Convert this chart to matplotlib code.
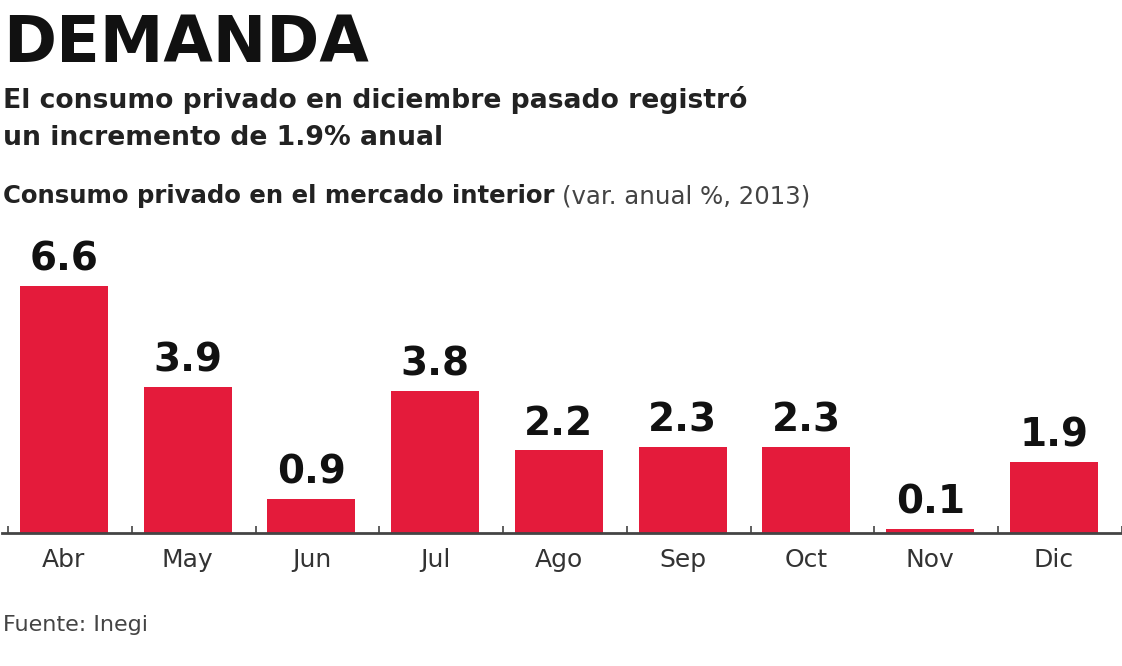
import matplotlib
matplotlib.use("Agg")
import matplotlib.pyplot as plt
import numpy as np

# datos
meses = ["Abr", "May", "Jun", "Jul", "Ago", "Sep", "Oct", "Nov", "Dic"]
valores = [6.6, 3.9, 0.9, 3.8, 2.2, 2.3, 2.3, 0.1, 1.9]

rojo = "#E41B3B"

fig = plt.figure(figsize=(11.22, 6.66), dpi=100)
ax = fig.add_axes([2 / 1122, 0.2, 1120 / 1122, 0.455])

x = np.arange(len(meses))
ax.bar(x, valores, width=0.71, color=rojo, zorder=2)

for xi, v in zip(x, valores):
    ax.text(xi, v + 0.2, f"{v:.1f}", ha="center", va="bottom",
            fontsize=28, fontweight="bold", color="#111111")

ax.set_xlim(-0.5, 8.5)
ax.set_ylim(0, 8.1)
for s in ["top", "right", "left"]:
    ax.spines[s].set_visible(False)
ax.spines["bottom"].set_color("#444444")
ax.spines["bottom"].set_linewidth(2)
ax.set_yticks([])

# marcas pequeñas entre barras
ax.set_xticks(np.arange(-0.45, 9, 1), minor=True)
ax.tick_params(axis="x", which="minor", direction="in", length=5, width=1.2, color="#444444")
ax.set_xticks(x)
ax.set_xticklabels(meses, fontsize=18, color="#333333")
ax.tick_params(axis="x", which="major", length=0, pad=11)

fig.text(0.003, 0.907, "DEMANDA", fontsize=46, fontweight="heavy", color="#111111")
fig.text(0.003, 0.838, "El consumo privado en diciembre pasado registró", fontsize=19.2,
         fontweight="bold", color="#222222")
fig.text(0.003, 0.782, "un incremento de 1.9% anual", fontsize=19.2,
         fontweight="bold", color="#222222")
t = fig.text(0.003, 0.695, "Consumo privado en el mercado interior", fontsize=17.6,
             fontweight="bold", color="#222222")
fig.canvas.draw()
bb = t.get_window_extent()
fig.text(bb.x1 / fig.bbox.width + 0.006, 0.695, "(var. anual %, 2013)", fontsize=17.6,
         color="#444444")
fig.text(0.003, 0.053, "Fuente: Inegi", fontsize=16, color="#444444")

fig.savefig("out.png", dpi=100)
